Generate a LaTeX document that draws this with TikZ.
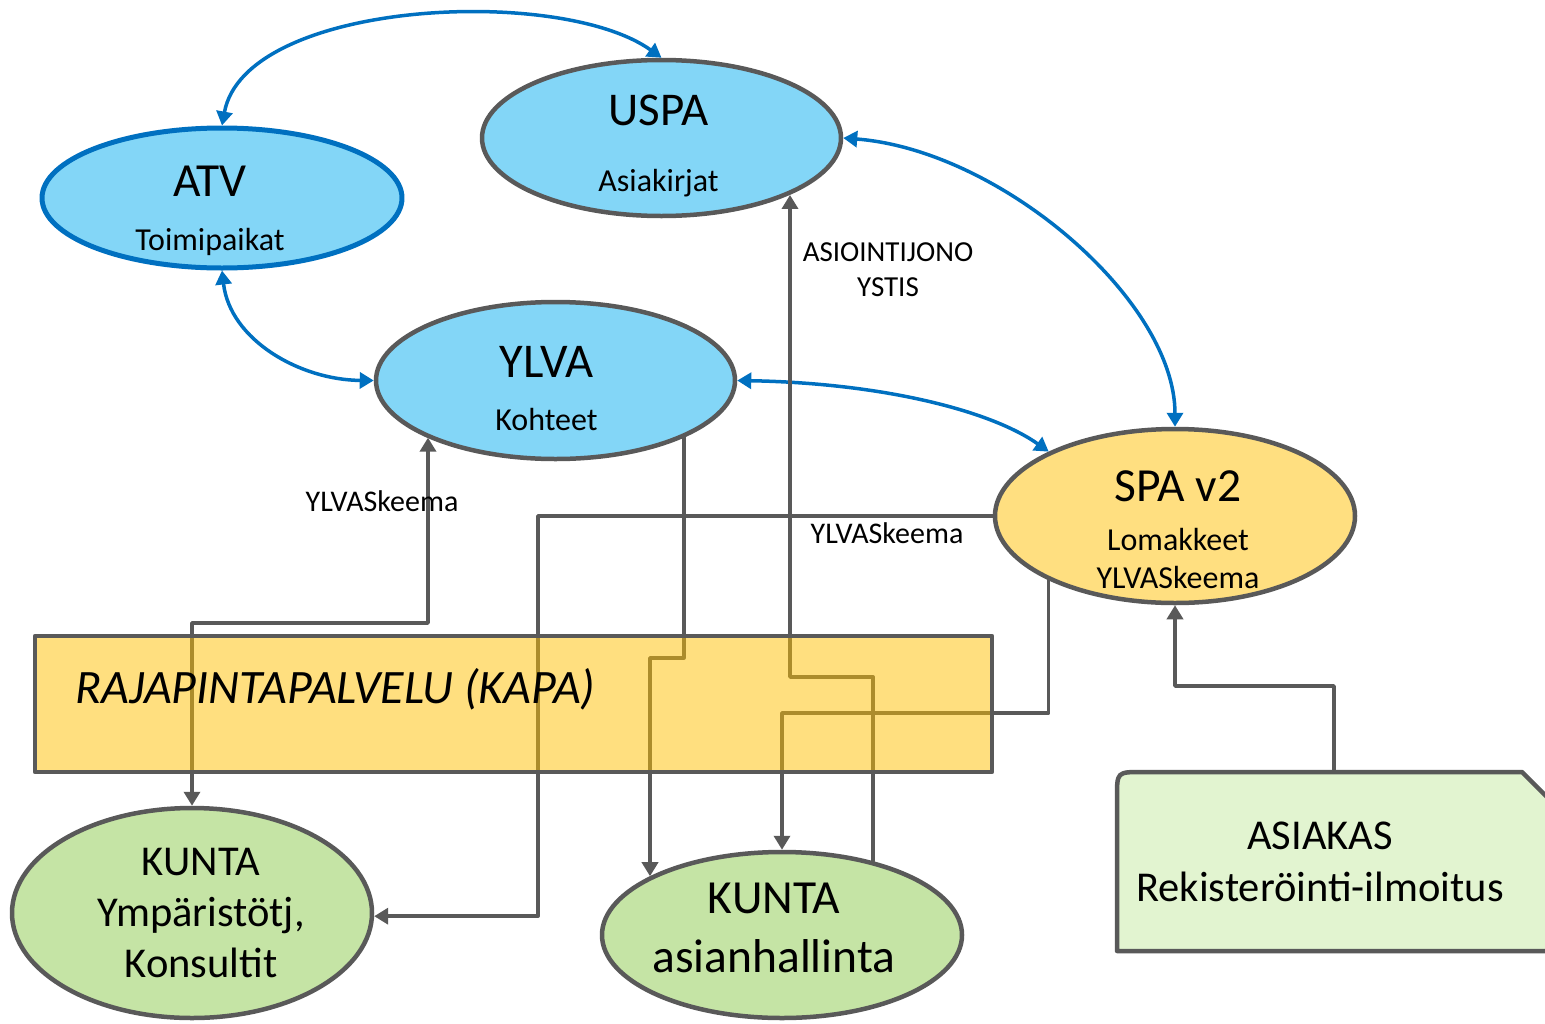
\documentclass[tikz,border=0pt]{standalone}
\usepackage{fontspec}
\setmainfont{Carlito}
\usetikzlibrary{arrows.meta,shapes.geometric}
\definecolor{skyFill}{RGB}{131,214,247}
\definecolor{tieBlue}{RGB}{0,112,192}
\definecolor{lineGray}{RGB}{89,89,89}
\definecolor{spaYellow}{RGB}{255,223,128}
\definecolor{kapaFill}{RGB}{255,191,0}
\definecolor{kuntaGreen}{RGB}{197,228,165}
\definecolor{askGreen}{RGB}{226,244,208}
\tikzset{
  sys/.style={ellipse,draw=lineGray,line width=4.5pt,fill=skyFill,minimum width=359pt,
    minimum height=156pt,inner sep=0pt},
  kunta/.style={sys,fill=kuntaGreen,minimum width=360pt},
  txt/.style={inner sep=0pt,align=center},
  link/.style={draw=lineGray,line width=3.5pt},
  tie/.style={draw=tieBlue,line width=3.5pt},
  note/.style={inner sep=0pt,align=center,font=\fontsize{30}{35}\selectfont},
}
\begin{document}
\begin{tikzpicture}[x=1pt,y=-1pt,line cap=round,line join=round,>={Triangle[length=14pt,width=16pt]}]
\useasboundingbox (0,0) rectangle (1545,1023);
% systems
\node[sys,draw=tieBlue,line width=5pt,minimum width=360pt,minimum height=140pt,
  label={[txt,xshift=-12pt,font=\fontsize{32}{54}\selectfont]center:
  {\fontsize{47.5}{47.5}\selectfont\rule{0pt}{56pt}ATV}\\Toimipaikat}] (atv) at (222,198) {};
\node[sys,label={[txt,xshift=-3pt,font=\fontsize{32}{66}\selectfont]center:
  {\fontsize{47}{47}\selectfont\rule{0pt}{46pt}USPA}\\Asiakirjat}] (uspa) at (661.5,138) {};
\node[sys,minimum height=157pt,label={[txt,xshift=-9pt,font=\fontsize{32}{52.5}\selectfont]center:
  {\fontsize{48.5}{48.5}\selectfont\rule{0pt}{47pt}YLVA}\\Kohteet}] (ylva) at (555.5,380.5) {};
\node[sys,fill=spaYellow,minimum width=360pt,minimum height=174pt,
  label={[txt,xshift=3pt,font=\fontsize{32}{38}\selectfont]center:
  {\fontsize{47.5}{47.5}\selectfont\rule{0pt}{59pt}SPA v2}\\[11pt]Lomakkeet\\YLVASkeema}]
  (spa) at (1175,516) {};
\node[kunta,minimum height=210pt,label={[txt,xshift=9pt,font=\fontsize{42.5}{51}\selectfont]center:
  KUNTA\\Ympäristötj,\\Konsultit}] (kunta1) at (192,913) {};
\node[kunta,minimum height=166pt,label={[txt,xshift=-8pt,font=\fontsize{47.5}{59}\selectfont]center:
  KUNTA\\asianhallinta\rule[-14pt]{0pt}{14pt}}] (kunta2) at (782,935) {};
% asiakas
\draw[lineGray,line width=4.5pt,fill=askGreen] (1117,951) -- (1117,797)
  .. controls (1117,772) .. (1142,772) -- (1522,772) -- (1570,820) -- (1570,951) -- cycle;
\node[txt,font=\fontsize{42.5}{52}\selectfont] (ask) at (1320,862)
  {ASIAKAS\\Rekisteröinti-ilmoitus};
\coordinate (askTop) at (1334,770);
% blue links
\draw[tie,<->] (atv.north) .. controls (245,0) and (560,-15) .. (uspa.north);
\draw[tie,<->] (atv.south) .. controls (230,340) and (300,380) .. (ylva.west);
\draw[tie,<->] (uspa.east) .. controls (1000,150) and (1175,300) .. (spa.north);
\draw[tie,<->] (ylva.east) .. controls (880,383) and (990,410) .. (spa.153);
% gray links
\coordinate (aBend) at (428,623);
\coordinate (bBend) at (538,516);
\coordinate (cBend) at (650,658);
\coordinate (dBend) at (790,677);
\coordinate (eBend) at (782,713);
\coordinate (fBend) at (1175,686);
\draw[link,<->] (kunta1.north) |- (aBend) -- (aBend |- ylva.204);
\draw[link,->] (spa.west) -- (bBend) |- (kunta1.-1.5);
\draw[link,->] (ylva.-24) |- (cBend) -- (cBend |- kunta2.156);
\draw[link,->] (kunta2.39) |- (dBend) -- (dBend |- uspa.-24);
\draw[link,->] (spa.207) |- (eBend) -- (kunta2.north);
\draw[link,->] (askTop) |- (fBend) -- (spa.south);
% kapa
\node[draw=lineGray,line width=4.5pt,fill=kapaFill,fill opacity=0.5,inner sep=0pt,
  minimum width=957pt,minimum height=136pt] (kapa) at (513.5,704) {};
\node[anchor=base west,inner sep=0pt,font=\fontsize{48}{48}\selectfont\itshape] (kapaText)
  at (75,703) {RAJAPINTAPALVELU (KAPA)};
% labels
\node[note] (schemaA) at (382,501) {YLVASkeema};
\node[note] (schemaB) at (887,533) {YLVASkeema};
\node[note,font=\fontsize{29}{35}\selectfont] (queue) at (888,270) {ASIOINTIJONO\\YSTIS};
\end{tikzpicture}
\end{document}
